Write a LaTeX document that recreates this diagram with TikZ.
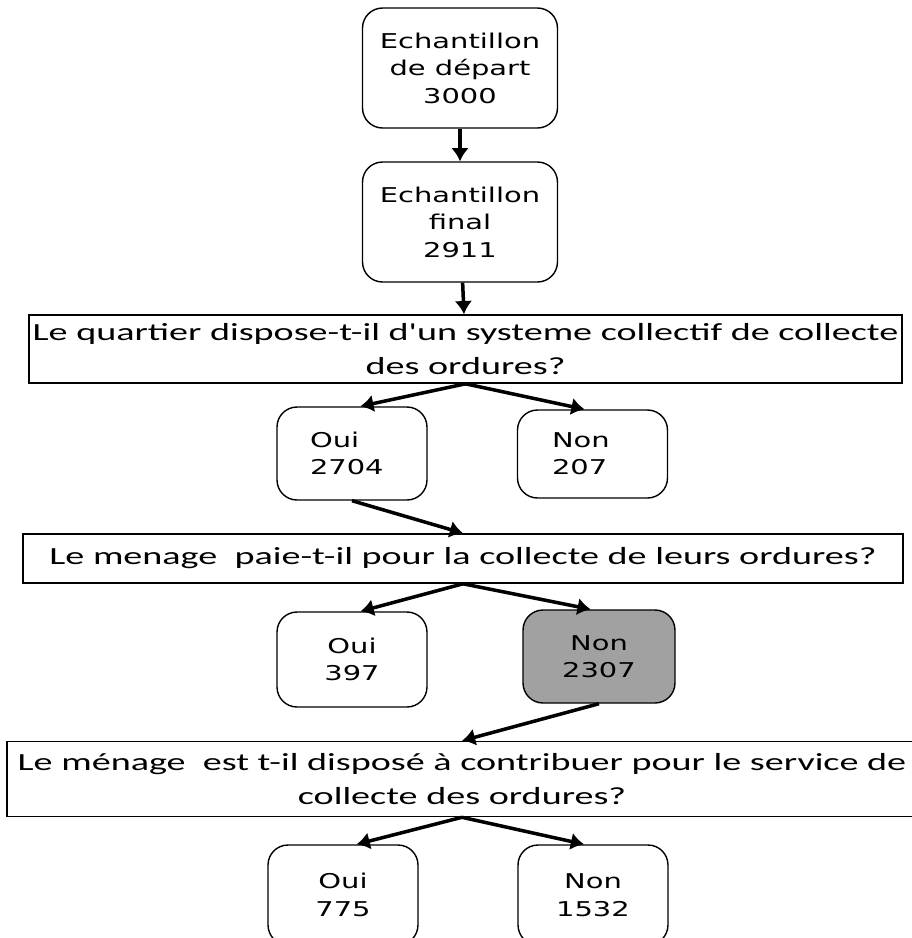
\documentclass[tikz,border=0pt]{standalone}
\usepackage{fontspec}
\usepackage{tikz}
\usetikzlibrary{arrows.meta}
\newfontfamily\boxfont[FakeStretch=1.42]{DejaVu Sans}
\newfontfamily\qfont[FakeStretch=1.55]{Carlito}

\begin{document}
\begin{tikzpicture}[
      x=0.02cm, y=-0.02cm,
      box/.style={rectangle, draw, rounded corners=0.4cm, line width=0.8pt,
                  minimum width=3cm, minimum height=1.86cm, inner sep=0pt,
                  font=\boxfont\fontsize{11.6}{15.6}\selectfont, align=center},
      ques/.style={rectangle, draw, line width=0.9pt, inner sep=0pt,
                  font=\qfont\fontsize{14}{19.3}\selectfont, align=center},
      arr/.style={-{Latex[length=7.5pt, width=10pt]}, line width=2pt}
    ]
    \clip (0,0) rectangle (912,938);
    \node[box, minimum width=3.9cm, minimum height=2.4cm] (dep) at (460,68)
      {Echantillon\\de départ\\3000};
    \node[box, minimum width=3.9cm, minimum height=2.4cm] (fin) at (460,222)
      {Echantillon\\final\\2911};
    \node[ques, minimum width=17.46cm, minimum height=1.36cm] (qcol) at (465.5,349)
      {Le quartier dispose-t-il d'un systeme collectif de collecte\\des ordures?};
    \node[box, text width=1.68cm, align=left] (oui1) at (352,453.5) {Oui\\2704};
    \node[box, minimum height=1.76cm, text width=1.62cm, align=left] (non1) at (592.5,454)
      {Non\\207};
    \node[ques, minimum width=17.6cm, minimum height=0.98cm] (qpaie) at (463,558.5)
      {Le menage\ \ paie-t-il pour la collecte de leurs ordures?};
    \node[box, minimum height=1.9cm] (oui2) at (352,659.5) {Oui\\397};
    \node[box, minimum width=3.04cm, fill=black!37] (non2) at (599,656.5) {Non\\2307};
    \node[ques, minimum width=18.2cm, minimum height=1.5cm] (qcon) at (462,779)
      {Le ménage\ \ est t-il disposé à contribuer pour le service de\\collecte des ordures?};
    \node[box, minimum height=2cm] (oui3) at (343,895) {Oui\\775};
    \node[box, minimum height=2cm] (non3) at (593,895) {Non\\1532};
    \draw[arr] (dep) -- (fin);
    \draw[arr] (fin) -- (qcol);
    \draw[arr] (qcol.south) -- (oui1.80);
    \draw[arr] (qcol.south) -- (non1.100);
    \draw[arr] (oui1.south) -- (qpaie.north);
    \draw[arr] (qpaie.south) -- (oui2.80);
    \draw[arr] (qpaie.south) -- (non2.100);
    \draw[arr] (non2.south) -- (qcon.north);
    \draw[arr] (qcon.south) -- (oui3.75);
    \draw[arr] (qcon.south) -- (non3.100);
  \end{tikzpicture}
\end{document}
